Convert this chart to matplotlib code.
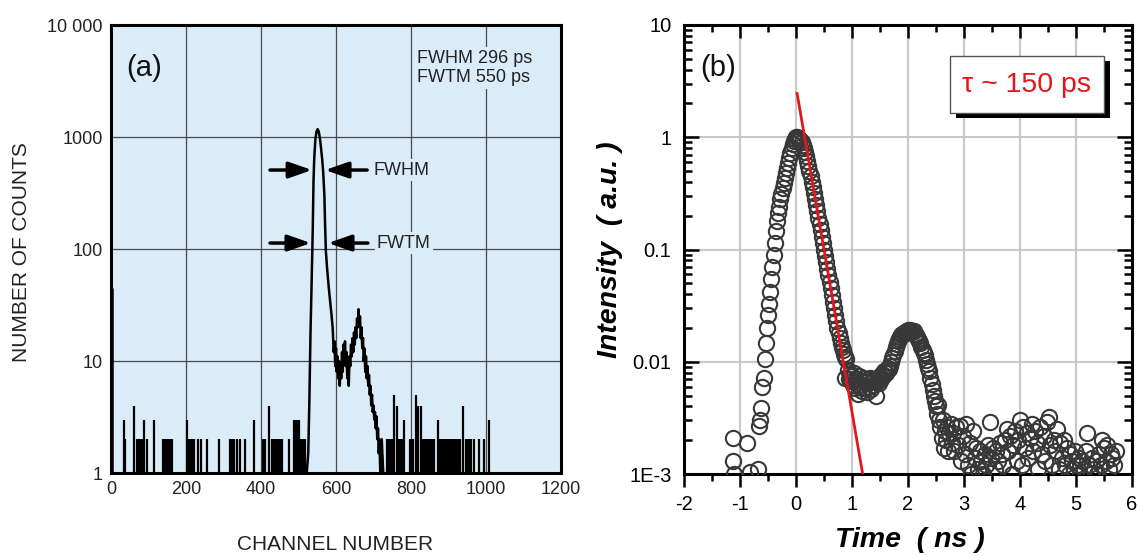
import numpy as np
import matplotlib
matplotlib.use("Agg")
import matplotlib.pyplot as plt
from matplotlib.patches import Rectangle
from matplotlib.ticker import FixedLocator, LogLocator, MultipleLocator, NullFormatter

plt.rcParams["font.family"] = ["Liberation Sans", "DejaVu Sans"]
plt.rcParams["axes.unicode_minus"] = False

# ---------------- panel (a): counts vs channel ----------------
a_xticks = [0, 200, 400, 600, 800, 1000, 1200]
a_yticks = [1, 10, 100, 1000, 10000]
a_ylabels = ["1", "10", "100", "1000", "10 000"]

first_ch = [2]
first_cnt = [45]

noise_ch = [35, 38, 62, 70, 74, 78, 82, 88, 95, 115, 139, 142, 146, 150, 154, 158, 162,
            203, 207, 212, 217, 222, 231, 240, 256, 287, 318, 322, 329, 336, 344, 357,
            381, 404, 410, 422, 429, 434, 440, 444, 448, 452, 456, 474, 488, 492, 496,
            501, 506, 513, 518,
            736, 740, 745, 749, 755, 763, 768, 772, 776, 781, 797, 801, 806, 813, 819,
            826, 831, 836, 841, 846, 851, 857, 862, 872, 878, 883, 887, 891, 895, 899,
            903, 907, 911, 915, 919, 923, 927, 931, 939, 946, 951, 955, 960, 968, 980,
            995, 1008]
noise_cnt = [3, 2, 4, 2, 2, 2, 2, 3, 2, 3, 2, 2, 2, 2, 2, 2, 2,
             3, 2, 2, 2, 2, 2, 2, 2, 2, 2, 2, 2, 2, 2, 2,
             3, 2, 2, 4, 2, 2, 2, 2, 2, 2, 2, 2, 3, 3, 3,
             3, 2, 2, 2,
             2, 2, 2, 2, 5, 4, 2, 2, 2, 3, 2, 2, 2, 5, 4,
             4, 2, 2, 2, 2, 2, 2, 2, 3, 2, 2, 2, 2, 2, 2,
             2, 2, 2, 2, 2, 2, 2, 2, 4, 2, 2, 2, 2, 2, 2,
             2, 3]

peak_ch = [522, 526, 529, 532, 535, 538, 540, 542, 545, 548, 551, 554, 557, 560, 563,
           566, 569, 571, 573, 576, 580, 584, 588, 591, 592, 594, 596, 598, 600, 602,
           604, 606, 608, 610, 612, 614, 616, 618, 620, 622, 624, 626, 628, 630, 632,
           634, 636, 638, 640, 642, 644, 646, 648, 650, 652, 654, 656, 658, 660, 662,
           664, 666, 668, 670, 672, 674, 676, 678, 680, 682, 684, 686, 688, 690, 692,
           694, 696, 698, 700, 702, 704, 706, 708, 710, 712, 714, 716, 718, 722, 726]
peak_cnt = [1, 1.5, 4.5, 18, 50, 150, 400, 650, 950, 1120, 1175, 1120, 980, 800, 640,
            480, 300, 160, 95, 69, 48, 35, 26, 20, 17, 12, 15, 9, 13, 8,
            11, 7, 10, 6, 9, 7, 12, 8, 14, 10, 15, 9, 12, 7, 9,
            6, 11, 9, 14, 11, 16, 12, 18, 14, 20, 16, 24, 20, 29, 21,
            25, 16, 20, 13, 16, 10, 13, 8, 11, 7, 9, 6, 7.5, 5, 6,
            4, 5, 3.5, 4, 3, 3.5, 2.5, 3.2, 2, 2.5, 1.5, 2, 1, 2, 1]

# ---------------- panel (b): intensity vs time ----------------
early_t = [-1.13, -1.12, -1.10, -0.88, -0.83, -0.68]
early_i = [0.0021, 0.0013, 0.0010, 0.0019, 0.00105, 0.0011]

rise_t = [-0.66, -0.64, -0.62, -0.60, -0.58, -0.56, -0.54, -0.52, -0.50, -0.48, -0.46,
          -0.44, -0.42, -0.40, -0.38, -0.36, -0.34, -0.32, -0.30, -0.28, -0.26, -0.24,
          -0.22, -0.20, -0.18, -0.16, -0.14, -0.12, -0.10, -0.08, -0.06, -0.04, -0.02,
          0.00]
rise_i = [0.0027, 0.0030, 0.0039, 0.0059, 0.0072, 0.0105, 0.0148, 0.020, 0.026, 0.033,
          0.042, 0.055, 0.070, 0.090, 0.115, 0.145, 0.18, 0.21, 0.24, 0.28, 0.31, 0.35,
          0.39, 0.43, 0.48, 0.53, 0.59, 0.66, 0.73, 0.80, 0.87, 0.93, 0.97, 1.00]

decay_t = [0.02, 0.04, 0.06, 0.08, 0.10, 0.12, 0.14, 0.16, 0.18, 0.20, 0.22, 0.24, 0.26,
           0.28, 0.30, 0.32, 0.34, 0.36, 0.38, 0.40, 0.42, 0.44, 0.46, 0.48, 0.50, 0.52,
           0.54, 0.56, 0.58, 0.60, 0.62, 0.64, 0.66, 0.68, 0.70, 0.72, 0.74, 0.76, 0.78,
           0.80, 0.82, 0.84, 0.86, 0.88, 0.90]
decay_i = [1.00, 0.99, 0.97, 0.94, 0.90, 0.85, 0.80, 0.74, 0.68, 0.62, 0.56, 0.50, 0.45,
           0.40, 0.36, 0.32, 0.28, 0.25, 0.22, 0.19, 0.17, 0.15, 0.13, 0.115, 0.10, 0.088,
           0.077, 0.067, 0.059, 0.051, 0.045, 0.039, 0.034, 0.030, 0.026, 0.023, 0.020,
           0.018, 0.0162, 0.0148, 0.0136, 0.0126, 0.0118, 0.0111, 0.0106]

trough_t = [0.88, 0.92, 0.94, 0.96, 0.98, 1.00, 1.02, 1.04, 1.06, 1.08, 1.10, 1.12, 1.14,
            1.16, 1.18, 1.20, 1.22, 1.24, 1.26, 1.28, 1.30, 1.32, 1.34, 1.36, 1.38, 1.40,
            1.42, 1.44, 1.46, 1.48, 1.50, 1.52, 1.54, 1.56, 1.58]
trough_i = [0.0072, 0.0085, 0.0070, 0.0078, 0.0068, 0.0075, 0.0062, 0.0080, 0.0058,
            0.0070, 0.0052, 0.0075, 0.0060, 0.0068, 0.0055, 0.0072, 0.0058, 0.0066,
            0.0054, 0.0070, 0.0060, 0.0072, 0.0057, 0.0068, 0.0062, 0.0070, 0.0050,
            0.0066, 0.0072, 0.0065, 0.0075, 0.0070, 0.0078, 0.0074, 0.0082]

bump_t = [1.60, 1.62, 1.64, 1.66, 1.68, 1.70, 1.72, 1.74, 1.76, 1.78, 1.80, 1.82, 1.84,
          1.86, 1.88, 1.90, 1.92, 1.94, 1.96, 1.98, 2.00, 2.02, 2.04, 2.06, 2.08, 2.10,
          2.12, 2.14, 2.16, 2.18, 2.20, 2.22, 2.24, 2.26, 2.28, 2.30, 2.32, 2.34, 2.36,
          2.38, 2.40, 2.42, 2.44, 2.46, 2.48, 2.50, 2.52, 2.54, 2.56, 2.58, 2.60, 2.62,
          2.64, 2.66, 2.68, 2.70, 2.72, 2.74, 2.76, 2.78]
bump_i = [0.0080, 0.0084, 0.0088, 0.0086, 0.0092, 0.0100, 0.0108, 0.0115, 0.0125, 0.0135,
          0.0145, 0.0152, 0.0160, 0.0166, 0.0172, 0.0176, 0.0180, 0.0184, 0.0180, 0.0188,
          0.0190, 0.0186, 0.0192, 0.0188, 0.0184, 0.0186, 0.0178, 0.0172, 0.0166, 0.0160,
          0.0154, 0.0146, 0.0136, 0.0128, 0.0120, 0.0116, 0.0104, 0.0096, 0.0088, 0.0082,
          0.0072, 0.0064, 0.0056, 0.0050, 0.0045, 0.0040, 0.0034, 0.0041, 0.0030, 0.0026,
          0.0021, 0.0030, 0.0017, 0.0024, 0.0020, 0.0026, 0.0016, 0.0023, 0.0028, 0.0019]

tail_t = [2.80, 2.83, 2.86, 2.89, 2.92, 2.95, 2.98, 3.01, 3.04, 3.07, 3.10, 3.13, 3.16,
          3.19, 3.22, 3.25, 3.28, 3.31, 3.34, 3.37, 3.40, 3.43, 3.46, 3.49, 3.52, 3.55,
          3.58, 3.61, 3.64, 3.67, 3.70, 3.73, 3.76, 3.79, 3.82, 3.85, 3.88, 3.91, 3.94,
          3.97, 4.00, 4.03, 4.06, 4.09, 4.12, 4.15, 4.18, 4.21, 4.24, 4.27, 4.30, 4.33,
          4.36, 4.39, 4.42, 4.45, 4.48, 4.51, 4.54, 4.57, 4.60, 4.63, 4.66, 4.69, 4.72,
          4.75, 4.78, 4.81, 4.84, 4.87, 4.90, 4.93, 4.96, 4.99, 5.02, 5.05, 5.08, 5.11,
          5.14, 5.17, 5.20, 5.23, 5.26, 5.29, 5.32, 5.35, 5.38, 5.41, 5.44, 5.47, 5.50,
          5.53, 5.56, 5.59, 5.62, 5.65, 5.68, 5.71]
tail_i = [0.0023, 0.0016, 0.0026, 0.0018, 0.0027, 0.0013, 0.0022, 0.0015, 0.0028, 0.0012,
          0.0019, 0.0010, 0.0024, 0.0014, 0.0017, 0.0011, 0.0016, 0.0013, 0.0010, 0.0015,
          0.0012, 0.0018, 0.0029, 0.0014, 0.0017, 0.0011, 0.0016, 0.0013, 0.0019, 0.0015,
          0.0012, 0.0020, 0.0025, 0.0016, 0.0022, 0.0010, 0.0018, 0.0024, 0.0013, 0.0020,
          0.0030, 0.0012, 0.0026, 0.0017, 0.0023, 0.0014, 0.0021, 0.0028, 0.0016, 0.0024,
          0.0019, 0.0011, 0.0026, 0.0015, 0.0022, 0.0013, 0.0029, 0.0032, 0.0018, 0.0012,
          0.0020, 0.0016, 0.0025, 0.0011, 0.0019, 0.0014, 0.0020, 0.0012, 0.0017, 0.0010,
          0.0015, 0.0013, 0.0011, 0.0016, 0.0012, 0.0014, 0.0010, 0.0013, 0.0011, 0.0016,
          0.0023, 0.0012, 0.0010, 0.0014, 0.0011, 0.0013, 0.0010, 0.0015, 0.0012, 0.0020,
          0.0017, 0.0013, 0.0018, 0.0011, 0.0015, 0.0014, 0.0012, 0.0016]

# exponential fit shown as red line
tau_ns = 0.15
fit_amp = 2.45
fit_t0 = 0.02
fit_floor = 1e-3

b_ylabels = {10: "10", 1: "1", 0.1: "0.1", 0.01: "0.01", 0.001: "1E-3"}

# ------------------------------------------------------------
W, H = 1140, 556
fig = plt.figure(figsize=(W / 100, H / 100), dpi=100)
blue_bg = "#dbecf9"

axa = fig.add_axes([111 / W, 83 / H, 450 / W, 448 / H])
axa.set_facecolor(blue_bg)
axa.set_yscale("log")
axa.set_xlim(0, 1200)
axa.set_ylim(1, 10000)
axa.xaxis.set_major_locator(FixedLocator(a_xticks))
axa.yaxis.set_major_locator(FixedLocator(a_yticks))
axa.yaxis.set_minor_locator(FixedLocator([]))
axa.set_xticklabels([str(v) for v in a_xticks])
axa.set_yticklabels(a_ylabels)
axa.tick_params(length=0, labelsize=13, colors="#222222")
axa.tick_params(axis="x", pad=6)
axa.tick_params(axis="y", pad=6)
axa.grid(True, color="#4a4a4a", lw=0.9)
axa.set_axisbelow(True)
for s in axa.spines.values():
    s.set_linewidth(2.2)
    s.set_color("black")

axa.vlines(first_ch, 1, first_cnt, color="black", lw=1.8)
axa.vlines(noise_ch, 1, noise_cnt, color="black", lw=1.6)
axa.plot(peak_ch, peak_cnt, color="black", lw=1.8)

axa.text(0.033, 0.905, "(a)", transform=axa.transAxes, fontsize=21,
         ha="left", va="center", color="#111111")
axa.text(0.68, 0.945, "FWHM 296 ps\nFWTM 550 ps", transform=axa.transAxes,
         fontsize=13, ha="left", va="top", linespacing=1.2, color="#222222",
         bbox=dict(facecolor=blue_bg, edgecolor="none", pad=2))

arrow_kw = dict(arrowstyle="-|>,head_length=1.0,head_width=0.35", color="black",
                lw=2.5, shrinkA=0, shrinkB=0, mutation_scale=14)
for y, xl0, xl1, xr0, xr1, xt, lab in [(507, 424, 536, 683, 571, 699, "FWHM"),
                                       (113, 424, 533, 685, 579, 709, "FWTM")]:
    axa.annotate("", xy=(xl1, y), xytext=(xl0, y), arrowprops=arrow_kw)
    axa.annotate("", xy=(xr1, y), xytext=(xr0, y), arrowprops=arrow_kw)
    axa.text(xt, y, lab, fontsize=13, ha="left", va="center", color="#222222",
             bbox=dict(facecolor=blue_bg, edgecolor="none", pad=1.5))

fig.text(22 / W, (H - 252) / H, "NUMBER OF COUNTS", rotation=90, fontsize=15,
         ha="center", va="center", color="#222222")
fig.text(335 / W, (H - 545) / H, "CHANNEL NUMBER", fontsize=15,
         ha="center", va="center", color="#222222")

# ------------------------------------------------------------
axb = fig.add_axes([684 / W, 82 / H, 448 / W, 449 / H])
axb.set_yscale("log")
axb.set_xlim(-2, 6)
axb.set_ylim(1e-3, 10)
axb.xaxis.set_major_locator(MultipleLocator(1))
axb.xaxis.set_minor_locator(MultipleLocator(0.5))
axb.yaxis.set_major_locator(FixedLocator(list(b_ylabels.keys())))
axb.yaxis.set_minor_locator(LogLocator(base=10, subs=np.arange(2, 10)))
axb.yaxis.set_minor_formatter(NullFormatter())
axb.set_yticklabels(list(b_ylabels.values()))
axb.tick_params(axis="x", which="both", direction="out", labelsize=14.5, width=1.8,
                pad=6)
axb.tick_params(axis="x", which="major", length=9)
axb.tick_params(axis="x", which="minor", length=5)
axb.tick_params(axis="y", which="both", direction="in", left=True, right=True,
                labelsize=14.5, width=1.8, pad=9)
axb.tick_params(axis="y", which="major", length=11)
axb.tick_params(axis="y", which="minor", length=6)
axb.grid(True, which="major", color="#c8c8c8", lw=1.5)
axb.set_axisbelow(True)
for s in axb.spines.values():
    s.set_linewidth(2.2)

top = axb.twiny()
top.set_xlim(axb.get_xlim())
top.xaxis.set_major_locator(MultipleLocator(1))
top.xaxis.set_minor_locator(MultipleLocator(0.5))
top.tick_params(axis="x", which="both", direction="in", labeltop=False, width=1.8)
top.tick_params(axis="x", which="major", length=9)
top.tick_params(axis="x", which="minor", length=5)
for s in top.spines.values():
    s.set_visible(False)

t_all = np.concatenate([early_t, rise_t, decay_t, trough_t, bump_t, tail_t])
i_all = np.concatenate([early_i, rise_i, decay_i, trough_i, bump_i, tail_i])
axb.plot(t_all, i_all, ls="none", marker="o", ms=11, mfc="none", mec="#383838",
         mew=1.5, zorder=3)

fit_t_end = fit_t0 + tau_ns * np.log(fit_amp / fit_floor)
fit_t = np.array([fit_t0, fit_t_end])
fit_i = fit_amp * np.exp(-(fit_t - fit_t0) / tau_ns)
axb.plot(fit_t, fit_i, color="#e3161c", lw=2.0, zorder=4)

axb.text(0.036, 0.905, "(b)", transform=axb.transAxes, fontsize=21,
         ha="left", va="center", color="#111111")

bx0, by0, bw, bh = (950 - 684) / 448, (474 - 113) / 449, 154 / 448, 57 / 449
axb.add_patch(Rectangle((bx0 + 6 / 448, by0 - 5 / 449), bw, bh, transform=axb.transAxes,
                        facecolor="black", edgecolor="none", zorder=5))
axb.add_patch(Rectangle((bx0, by0), bw, bh, transform=axb.transAxes,
                        facecolor="white", edgecolor="#555555", lw=1.0, zorder=6))
axb.text(bx0 + bw / 2, by0 + bh / 2, "τ ~ 150 ps", transform=axb.transAxes,
         fontsize=20.5, color="#e3161c", ha="center", va="center", zorder=7)

fig.text(610 / W, (H - 250) / H, "Intensity  ( a.u. )", rotation=90, fontsize=20.5,
         fontweight="bold", style="italic", ha="center", va="center")
fig.text(910 / W, (H - 540) / H, "Time  ( ns )", fontsize=20.5,
         fontweight="bold", style="italic", ha="center", va="center")

fig.savefig("out.png", dpi=100, facecolor="white")
